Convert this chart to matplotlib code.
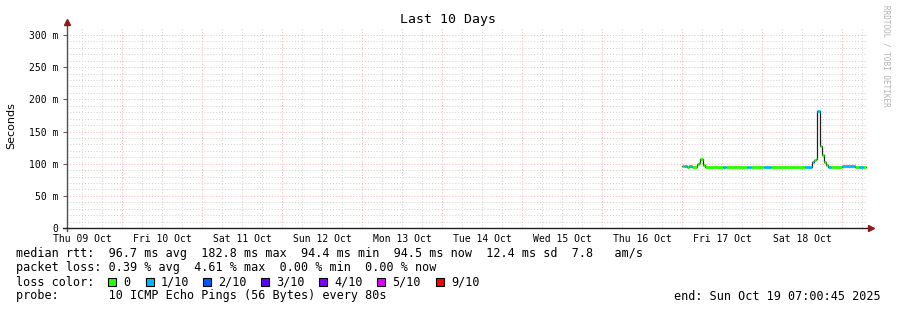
import matplotlib
matplotlib.use("Agg")
import matplotlib.pyplot as plt
from matplotlib.lines import Line2D
from matplotlib.patches import Rectangle
from datetime import datetime as dt, timedelta

# data: step segments of median rtt (ms), hours after Fri 17 Oct 00:00
seg_hours = [0.0, 0.6, 1.5, 2.1, 3.0, 4.5, 5.1, 5.4, 6.3, 6.9, 12.3, 13.2,
             19.5, 20.7, 24.6, 26.7, 36.9, 39.0, 39.6, 40.2, 40.5, 41.4,
             42.0, 42.6, 43.2, 43.8, 44.7, 48.0, 51.9, 53.1, 54.3]
seg_ms = [96.0, 97.0, 95.5, 97.0, 95.0, 99.0, 101.0, 107.0, 98.0, 94.5, 94.5, 94.5,
          94.8, 94.5, 95.0, 94.5, 94.5, 103.0, 106.0, 108.0, 182.5, 128.0,
          113.0, 103.0, 98.0, 94.5, 94.5, 96.0, 94.5, 95.5, 94.5]
seg_loss = [0, 1, 0, 1, 0, 0, 0, 0, 0, 0, 1, 0,
            1, 0, 1, 0, 1, 1, 0, 0, 1, 0,
            0, 0, 0, 1, 0, 1, 0, 1, 0]
data_end_h = 55.2

loss_labels = ["0", "1/10", "2/10", "3/10", "4/10", "5/10", "9/10"]
loss_colors = ["#26ff00", "#00b8ff", "#0059ff", "#5e00ff", "#7e00ff", "#dd00ff", "#ff0000"]

day_labels = ["Thu 09 Oct", "Fri 10 Oct", "Sat 11 Oct", "Sun 12 Oct", "Mon 13 Oct",
              "Tue 14 Oct", "Wed 15 Oct", "Thu 16 Oct", "Fri 17 Oct", "Sat 18 Oct"]

stats_line = "median rtt:  96.7 ms avg  182.8 ms max  94.4 ms min  94.5 ms now  12.4 ms sd  7.8   am/s"
loss_line = "packet loss: 0.39 % avg  4.61 % max  0.00 % min  0.00 % now"
probe_line = "probe:       10 ICMP Echo Pings (56 Bytes) every 80s"
end_line = "end: Sun Oct 19 07:00:45 2025"

W, H = 897, 310
MONO = "DejaVu Sans Mono"
MGRID = "#ffb0b0"
GRID = "#cfcfcf"
ARROW = "#8b1a1a"

fig = plt.figure(figsize=(W / 100, H / 100), dpi=100)
fig.patch.set_facecolor("white")

x0, x1, ybot, ytop = 67, 867, 228, 27
ax = fig.add_axes([x0 / W, 1 - ybot / H, (x1 - x0) / W, (ybot - ytop) / H])
ax.set_facecolor("white")

t_start = dt(2025, 10, 9, 7, 30)
t_end = t_start + timedelta(days=10)
data_t0 = dt(2025, 10, 17)
ymax = 300 + (35 - ytop) * 300 / 193
ax.set_xlim(t_start, t_end)
ax.set_ylim(0, ymax)

# grid
for v in range(10, 301, 10):
    c = MGRID if v % 50 == 0 else GRID
    ax.axhline(v, color=c, lw=0.7, ls=(0, (1, 2)), zorder=0)
t = dt(2025, 10, 9, 12)
while t < t_end:
    c = MGRID if t.hour == 0 else GRID
    ax.axvline(t, color=c, lw=0.7, ls=(0, (1, 2)), zorder=0)
    t += timedelta(hours=6)

# median line: thin dark connector plus loss coloured steps
times = [data_t0 + timedelta(hours=h) for h in seg_hours]
t_last = data_t0 + timedelta(hours=data_end_h)
xs, ys = [], []
for i, (ts, v) in enumerate(zip(times, seg_ms)):
    te = times[i + 1] if i + 1 < len(times) else t_last
    xs += [ts, te]
    ys += [v, v]
ax.plot(xs, ys, color="#202020", lw=0.9, zorder=2)
for i, (ts, v, l) in enumerate(zip(times, seg_ms, seg_loss)):
    te = times[i + 1] if i + 1 < len(times) else t_last
    ax.plot([ts, te], [v, v], color=loss_colors[l], lw=2.0,
            solid_capstyle="butt", zorder=3)

# ticks and labels
ax.set_yticks(range(0, 301, 50))
ax.set_yticklabels(["0" if v == 0 else f"{v} m" for v in range(0, 301, 50)],
                   family=MONO, fontsize=7)
ax.tick_params(axis="y", length=3, width=0.8, color="#606060", pad=3)
noons = [dt(2025, 10, 9, 12) + timedelta(days=i) for i in range(10)]
ax.set_xticks(noons)
ax.set_xticklabels(day_labels, family=MONO, fontsize=7)
ax.tick_params(axis="x", length=0, pad=4)
for s in ax.spines.values():
    s.set_visible(False)

# axis lines with arrows
fig.add_artist(Line2D([x0 / W, x0 / W], [1 - (ybot + 3) / H, 1 - 23 / H],
                      color="#505050", lw=1.0))
fig.add_artist(Line2D([63 / W, 870 / W], [1 - ybot / H, 1 - ybot / H],
                      color="#202020", lw=1.0))
fig.add_artist(Line2D([x0 / W], [1 - 22 / H], marker="^", ms=4.5,
                      color=ARROW, lw=0))
fig.add_artist(Line2D([871 / W], [1 - ybot / H], marker=">", ms=4.5,
                      color=ARROW, lw=0))

# titles
fig.text(448 / W, 1 - 19 / H, "Last 10 Days", family=MONO, fontsize=9.5,
         ha="center", va="center")
fig.text(11 / W, 1 - 126 / H, "Seconds", family="DejaVu Sans", fontsize=8,
         rotation=90, ha="center", va="center")
fig.text(886 / W, 1 - 5 / H, "RRDTOOL / TOBI OETIKER", family=MONO, fontsize=5.5,
         rotation=270, ha="center", va="top", color="#b0b0b0")

# legend area
fs = 8.5
fig.text(16 / W, 1 - 254 / H, stats_line, family=MONO, fontsize=fs, va="center")
fig.text(16 / W, 1 - 268 / H, loss_line, family=MONO, fontsize=fs, va="center")
fig.text(16 / W, 1 - 282 / H, "loss color:", family=MONO, fontsize=fs, va="center")
box_x = [108, 146, 203, 261, 319, 377, 436]
for bx, lab, col in zip(box_x, loss_labels, loss_colors):
    fig.add_artist(Rectangle((bx / W, 1 - 286 / H), 8 / W, 8 / H,
                             facecolor=col, edgecolor="black", lw=0.8))
    fig.text((bx + 15) / W, 1 - 282 / H, lab, family=MONO, fontsize=fs, va="center")
fig.text(16 / W, 1 - 296 / H, probe_line, family=MONO, fontsize=fs, va="center")
fig.text(881 / W, 1 - 296 / H, end_line, family=MONO, fontsize=fs,
         va="center", ha="right")

fig.savefig("out.png", dpi=100, facecolor="white")
